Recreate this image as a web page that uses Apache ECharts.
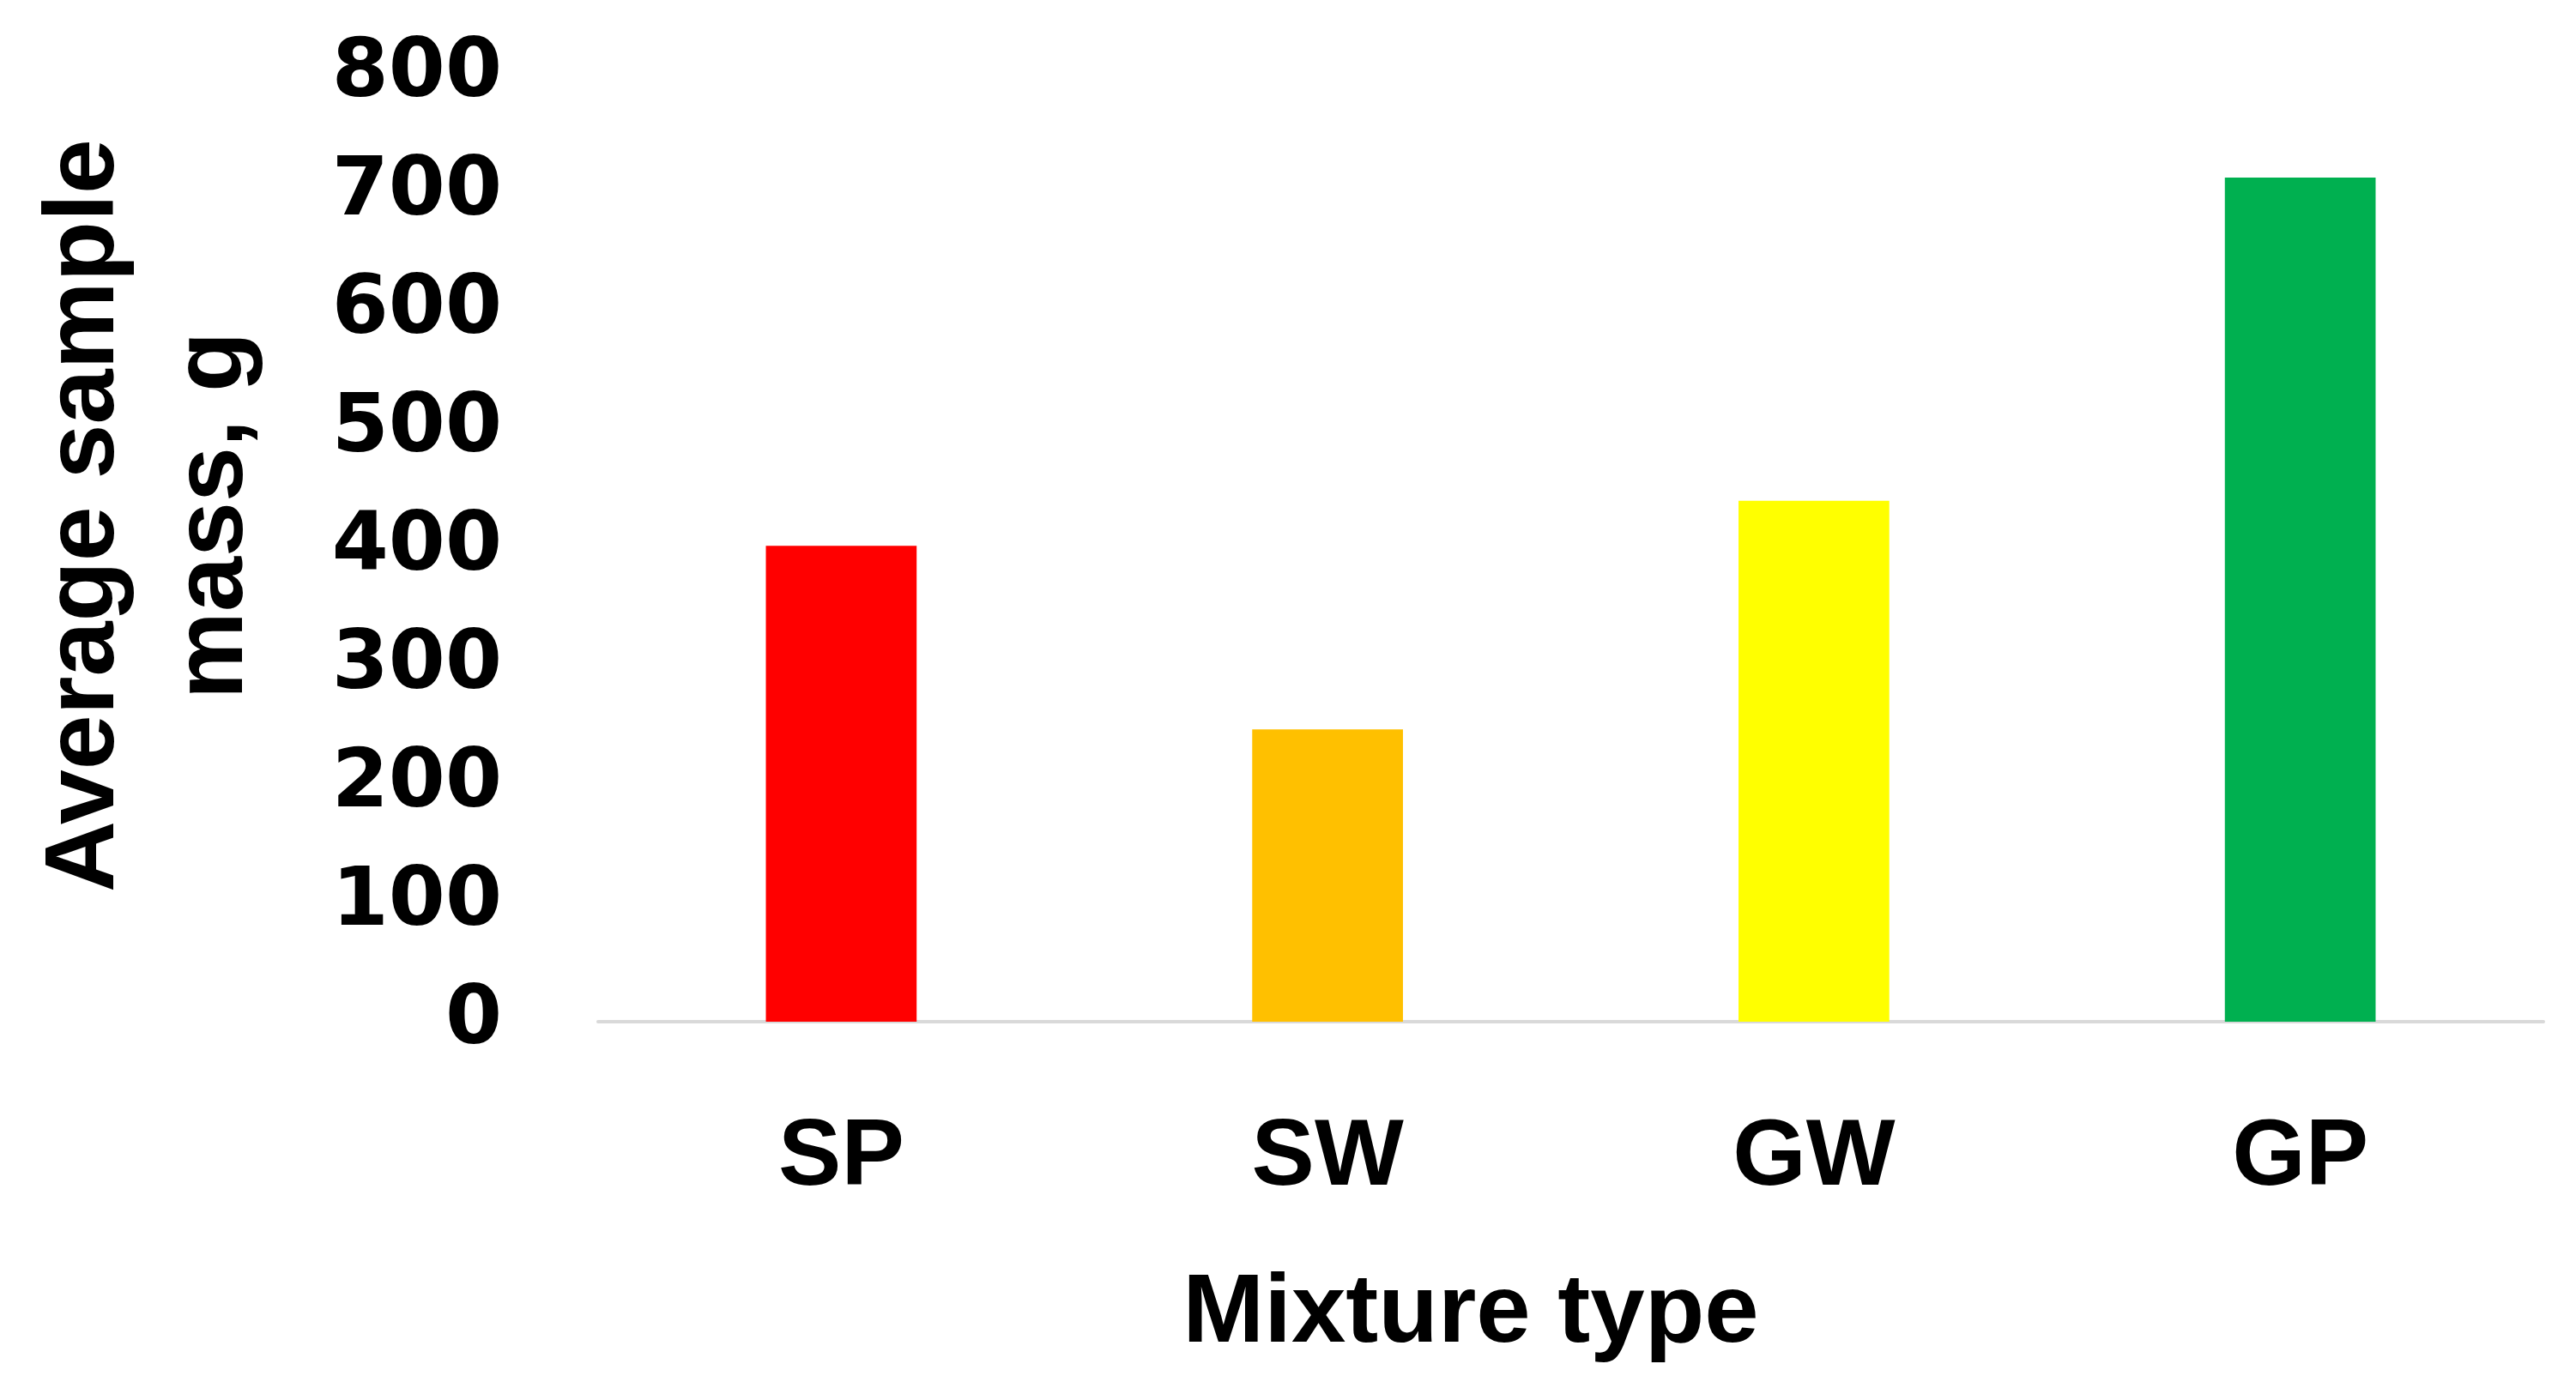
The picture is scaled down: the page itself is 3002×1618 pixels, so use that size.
<!DOCTYPE html>
<html>
<head>
<meta charset="utf-8">
<title>Average sample mass by mixture type</title>
<script src="https://cdn.jsdelivr.net/npm/echarts@6/dist/echarts.min.js"></script>
<style>
  html, body { margin: 0; padding: 0; background: #fff; }
  #chart { width: 3002px; height: 1618px; }
</style>
</head>
<body>
<div id="chart"></div>
<script>
// data
var mixtures = ['SP', 'SW', 'GW', 'GP'];
var avgMass = [402, 247, 440, 713];
var barColors = ['#ff0000', '#ffc000', '#ffff00', '#00b050'];
var yTicks = [0, 100, 200, 300, 400, 500, 600, 700, 800];

var myChart = echarts.init(document.getElementById('chart'));

var option = {
	backgroundColor: '#ffffff',
	animation: false,
	grid: {
		left: 697,
		right: 38,
		top: 87,
		bottom: 427
	},
	xAxis: {
		type: 'category',
		data: mixtures,
		axisLine: {
			show: true,
			lineStyle: { color: '#d9d9d9', width: 4 }
		},
		axisTick: { show: false },
		axisLabel: {
			margin: 105,
			color: '#000',
			fontFamily: 'Liberation Sans',
			fontWeight: 'bold',
			fontSize: 110
		}
	},
	yAxis: {
		type: 'value',
		min: yTicks[0],
		max: yTicks[yTicks.length - 1],
		interval: 100,
		axisLine: { show: false },
		axisTick: { show: false },
		splitLine: { show: false },
		axisLabel: {
			margin: 112,
			color: '#000',
			fontFamily: 'DejaVu Sans',
			fontWeight: 'bold',
			fontSize: 95
		}
	},
	series: [{
		type: 'bar',
		barWidth: '31%',
		data: avgMass.map(function(v, i) {
			return { value: v, itemStyle: { color: barColors[i] } };
		})
	}],
	graphic: [{
		type: 'text',
		x: 175,
		y: 601,
		rotation: Math.PI / 2,
		style: {
			text: 'Average sample\nmass, g',
			align: 'center',
			verticalAlign: 'middle',
			fill: '#000',
			fontFamily: 'Liberation Sans',
			fontWeight: 'bold',
			fontSize: 115,
			lineHeight: 150
		}
	}, {
		type: 'text',
		x: 1714,
		y: 1533,
		style: {
			text: 'Mixture type',
			align: 'center',
			verticalAlign: 'middle',
			fill: '#000',
			fontFamily: 'Liberation Sans',
			fontWeight: 'bold',
			fontSize: 114
		}
	}]
};
myChart.setOption(option);
</script>
</body>
</html>
